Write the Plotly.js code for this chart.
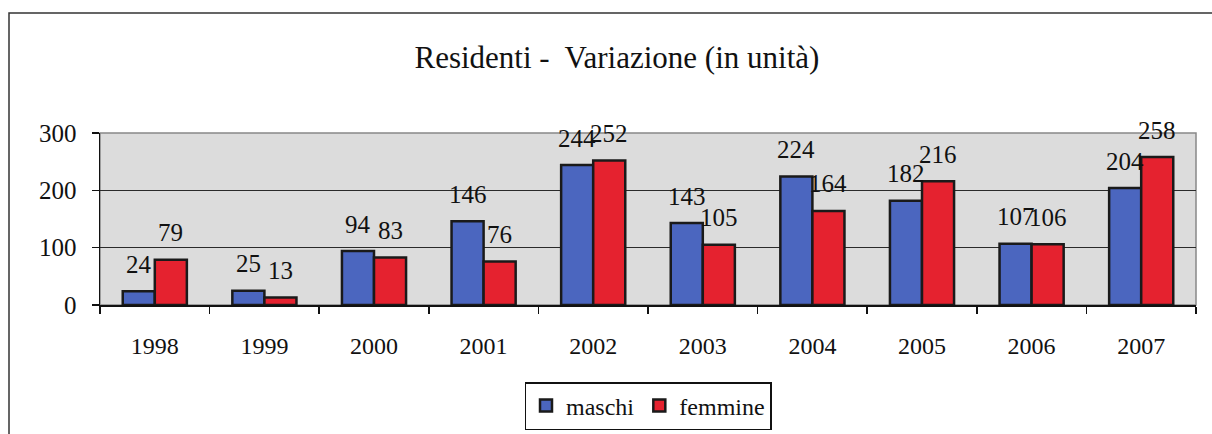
<!DOCTYPE html>
<html>
<head>
<meta charset="utf-8">
<script src="https://cdn.plot.ly/plotly-3.0.1.min.js"></script>
<style>
  html, body { margin: 0; padding: 0; background: #ffffff; overflow: hidden; }
  #chart { width: 1212px; height: 434px; }
  #chart text { font-family: "Liberation Serif", serif !important; }
</style>
</head>
<body>
<div id="chart"></div>
<script>
const years = ['1998', '1999', '2000', '2001', '2002', '2003', '2004', '2005', '2006', '2007'];
const maschi = [24, 25, 94, 146, 244, 143, 224, 182, 107, 204];
const femmine = [79, 13, 83, 76, 252, 105, 164, 216, 106, 258];
const seriesNames = ['maschi', 'femmine'];
const yTicks = [0, 100, 200, 300];

const FONT = '"Liberation Serif", serif';
const BLUE = '#4b66bf';
const RED = '#e5222f';
const BARGAP = 0.415;

const traces = [
  {
    type: 'bar', name: seriesNames[0], x: years, y: maschi,
    marker: { color: BLUE, line: { color: '#1a1a1a', width: 2.5 } },
    hoverinfo: 'x+y'
  },
  {
    type: 'bar', name: seriesNames[1], x: years, y: femmine,
    marker: { color: RED, line: { color: '#1a1a1a', width: 2.5 } },
    hoverinfo: 'x+y'
  }
];

const off = (1 - BARGAP) / 4;
const annotations = [];
years.forEach((yr, i) => {
  annotations.push({
    x: i - off, y: maschi[i], xref: 'x', yref: 'y', text: String(maschi[i]),
    showarrow: false, yanchor: 'middle', xanchor: 'center', yshift: 27,
    font: { family: FONT, size: 25, color: '#111' }
  });
  annotations.push({
    x: i + off, y: femmine[i], xref: 'x', yref: 'y', text: String(femmine[i]),
    showarrow: false, yanchor: 'middle', xanchor: 'center', yshift: 27,
    font: { family: FONT, size: 25, color: '#111' }
  });
});

const layout = {
  width: 1212, height: 434,
  margin: { l: 100, r: 16, t: 133, b: 129 },
  paper_bgcolor: '#ffffff',
  plot_bgcolor: '#dcdcdc',
  barmode: 'group',
  bargap: BARGAP,
  bargroupgap: 0,
  font: { family: FONT, size: 24, color: '#111' },
  title: {
    text: 'Residenti -  Variazione (in unità)',
    font: { family: FONT, size: 31, color: '#111' },
    x: 0.509, xanchor: 'center',
    y: 1 - 57 / 434, yref: 'container', yanchor: 'middle'
  },
  xaxis: {
    type: 'category',
    showline: true, linecolor: '#111', linewidth: 1.5,
    ticks: 'outside', tickson: 'boundaries', ticklen: 7, tickcolor: '#111', tickwidth: 1.5,
    tickfont: { family: FONT, size: 24, color: '#111' },
    ticklabelstandoff: 19,
    showgrid: false, zeroline: false,
    fixedrange: true
  },
  yaxis: {
    range: [0, 300],
    tickvals: yTicks,
    ticktext: yTicks.map(String),
    showline: true, linecolor: '#111', linewidth: 1.5,
    ticks: 'outside', ticklen: 7, tickcolor: '#111', tickwidth: 1.5,
    tickfont: { family: FONT, size: 25, color: '#111' },
    ticklabelstandoff: 10,
    showgrid: true, gridcolor: '#2a2a2a', gridwidth: 1,
    zeroline: false,
    fixedrange: true
  },
  showlegend: true,
  legend: {
    orientation: 'h',
    x: 0.5, xanchor: 'center',
    yref: 'container',
    y: 1 - 382 / 434, yanchor: 'top',
    bordercolor: '#111', borderwidth: 1.5,
    bgcolor: '#ffffff',
    font: { family: FONT, size: 24, color: '#111' },
    itemwidth: 30,
    tracegroupgap: 0
  },
  annotations: annotations,
  shapes: [
    {
      type: 'rect', xref: 'paper', yref: 'paper', x0: 0, x1: 1, y0: 0, y1: 1,
      line: { color: '#888888', width: 1.5 }, layer: 'below'
    },
    {
      type: 'rect', xref: 'paper', yref: 'paper',
      x0: (9 - 100) / 1096, x1: 1.2, y0: -1.2, y1: (305 - 13) / 172,
      line: { color: '#333333', width: 1.5 }, fillcolor: 'rgba(0,0,0,0)', layer: 'above'
    }
  ]
};

Plotly.newPlot('chart', traces, layout, { displayModeBar: false, staticPlot: true });
</script>
</body>
</html>
